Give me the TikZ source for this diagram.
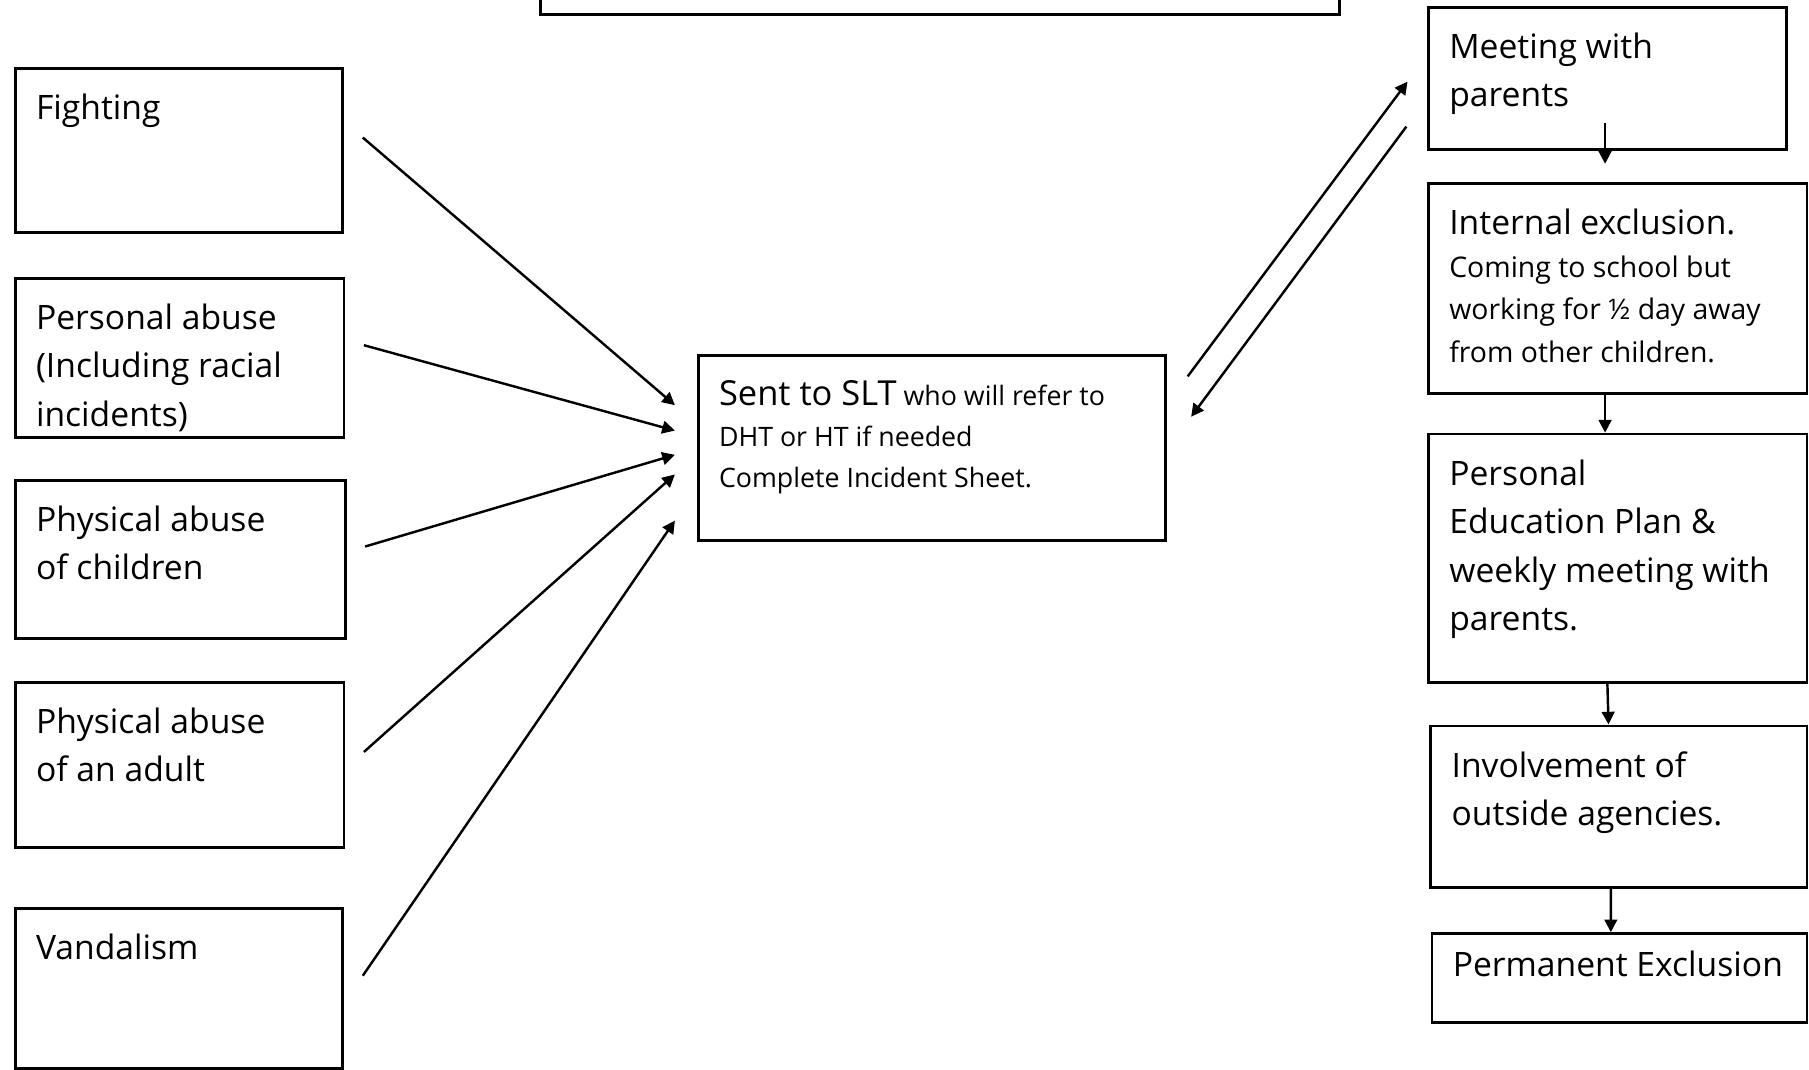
\documentclass[tikz,border=0pt]{standalone}
\usepackage{fontspec}
\setmainfont{Open Sans}
\usetikzlibrary{arrows.meta}
\newcommand{\boxtext}[3]{\parbox[c][#2][t]{#1}{\raggedright #3}}
\newcommand{\smalltext}{\fontsize{6.6}{10}\selectfont}
\newcommand{\midtext}{\fontsize{7}{10.5}\selectfont}

\begin{document}
\begin{tikzpicture}[x=1cm, y=-1cm,
    box/.style={draw, line width=0.7pt, anchor=north west, inner xsep=0.18cm, inner ysep=0.22cm, font=\fontsize{8.3}{12}\selectfont},
    link/.style={line width=0.6pt, -{Triangle[length=1.1mm,width=1.1mm]}}]
  \useasboundingbox (0,0) rectangle (15.68,9.27);

  \node[box, anchor=south west, minimum width=6.93cm, minimum height=1.64cm] (policy) at (4.67,0.14) {};

  \node[box] (fight) at (0.12,0.58) {\boxtext{2.48cm}{0.98cm}{Fighting}};
  \node[box] (pers) at (0.12,2.40) {\boxtext{2.49cm}{0.94cm}{Personal abuse\\(Including racial\\incidents)}};
  \node[box] (child) at (0.12,4.15) {\boxtext{2.50cm}{0.93cm}{Physical abuse\\of children}};
  \node[box] (adult) at (0.12,5.90) {\boxtext{2.49cm}{0.99cm}{Physical abuse\\of an adult}};
  \node[box] (vand) at (0.12,7.86) {\boxtext{2.48cm}{0.95cm}{Vandalism}};

  \node[box] (sent) at (6.04,3.07) {\boxtext{3.69cm}{1.16cm}{\smalltext{\fontsize{8.5}{10}\selectfont Sent to SLT} who will refer to\\DHT or HT if needed\\Complete Incident Sheet.}};

  \node[box] (meet) at (12.37,0.05) {\boxtext{2.74cm}{0.79cm}{Meeting with\\parents}};
  \node[box] (intex) at (12.37,1.58) {\boxtext{2.92cm}{1.38cm}{\midtext{\fontsize{8.3}{10}\selectfont Internal exclusion.}\\Coming to school but\\working for ½ day away\\from other children.}};
  \node[box] (pep) at (12.37,3.75) {\boxtext{2.92cm}{1.71cm}{Personal\\Education Plan \&\\weekly meeting with\\parents.}};
  \node[box] (invol) at (12.39,6.28) {\boxtext{2.90cm}{0.96cm}{Involvement of\\outside agencies.}};
  \node[box, inner ysep=0.15cm] (perm) at (12.40,8.08) {\boxtext{2.89cm}{0.47cm}{Permanent Exclusion}};

  \foreach \src/\dy in {fight/-0.37, pers/-0.15, child/0.06, adult/0.23, vand/0.63}
    \draw[link] ([shift={(0.16,-0.11)}]\src.east) -- ([shift={(-0.19,\dy)}]sent.west);

  \draw[link] ([shift={(0.18,-0.62)}]sent.east) -- ([shift={(-0.17,0.03)}]meet.west);
  \draw[link] ([shift={(-0.18,0.42)}]meet.west) -- ([shift={(0.21,-0.27)}]sent.east);

  \coordinate (m1) at ([shift={(-0.02,-0.24)}]meet.south);
  \draw[link, shorten >=0.16cm] (m1) -- (m1 |- intex.north);
  \draw[link] ([xshift=-0.11cm]intex.south) -- ([xshift=-0.11cm]pep.north);
  \draw[link] ([xshift=-0.09cm]pep.south) -- ([xshift=-0.09cm]invol.north);
  \draw[link] ([xshift=-0.07cm]invol.south) -- ([xshift=-0.075cm]perm.north);
\end{tikzpicture}
\end{document}
